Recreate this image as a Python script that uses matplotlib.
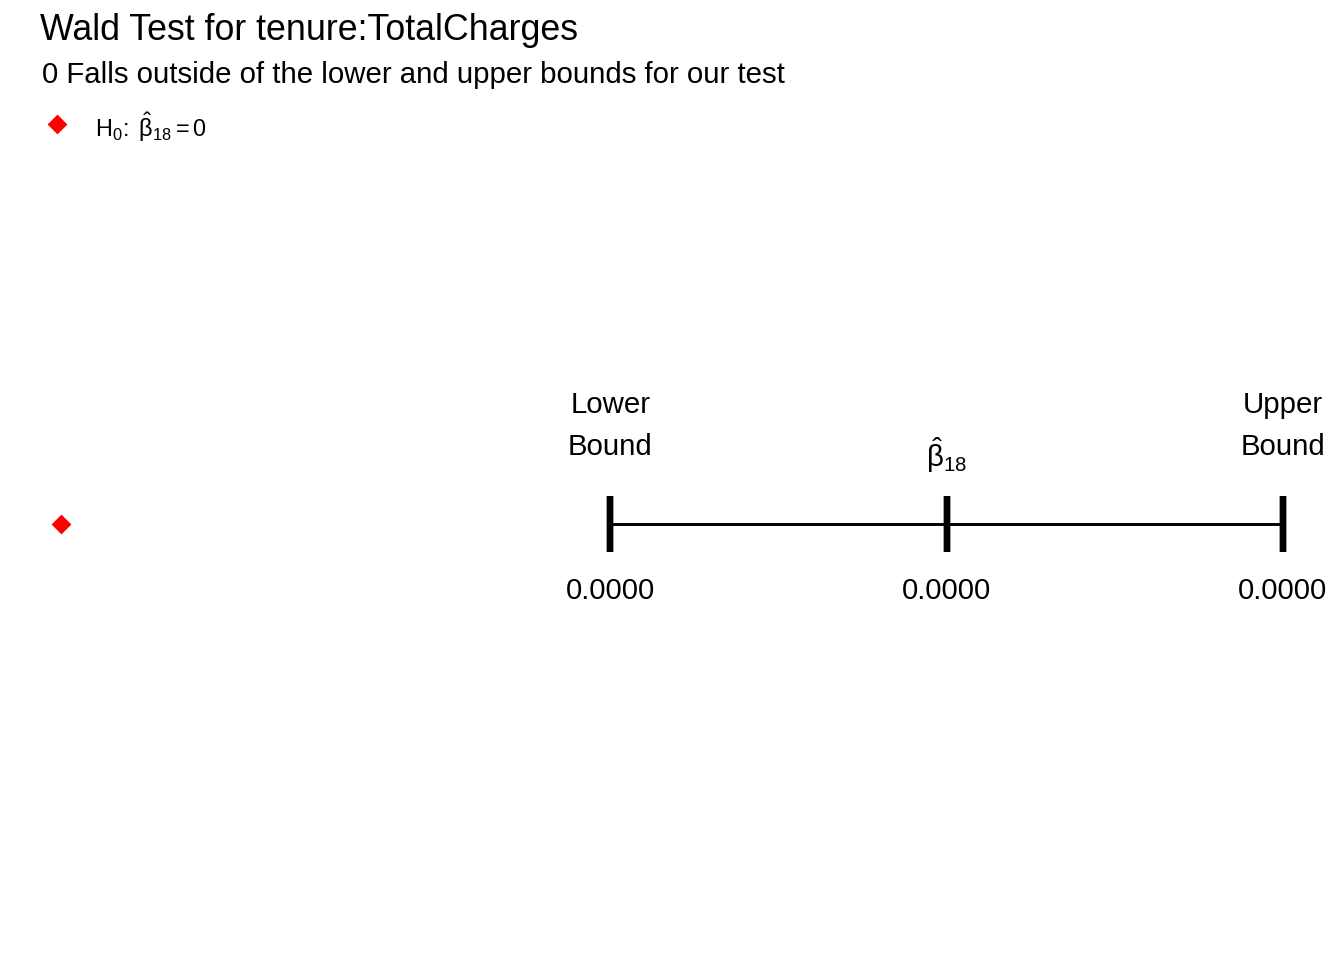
import matplotlib
matplotlib.use("Agg")
import matplotlib.pyplot as plt

plt.rcParams['font.family'] = ['Liberation Sans', 'DejaVu Sans']
plt.rcParams['mathtext.fontset'] = 'custom'
plt.rcParams['mathtext.rm'] = 'Liberation Sans'
plt.rcParams['mathtext.it'] = 'Liberation Sans:italic'
plt.rcParams['mathtext.bf'] = 'Liberation Sans:bold'

# Data
null_value = 0.0
lower_bound = 1.96e-5
estimate = 3.16e-5
upper_bound = 4.36e-5
bound_labels = ["Lower\nBound", r"$\hat{\mathrm{\beta}}_{18}$", "Upper\nBound"]
title = "Wald Test for tenure:TotalCharges"
subtitle = "0 Falls outside of the lower and upper bounds for our test"
legend_label = r"$\mathrm{H_0\!:\;\hat{\beta}_{18} = 0}$"

fig = plt.figure(figsize=(7, 5), dpi=192)
ax = fig.add_axes([0, 0, 1, 872 / 960])
ax.set_axis_off()

xs = [lower_bound, estimate, upper_bound]
ax.plot([lower_bound, upper_bound], [0, 0], color='black', lw=1.1, solid_capstyle='butt', zorder=2)
for x in xs:
    ax.plot([x, x], [0, 0], marker='|', markersize=20.8, markeredgewidth=2.4, color='black', zorder=3)

ax.plot([null_value], [0], marker='D', color='#FF0000', markersize=4.2, linestyle='none', zorder=4)

for x, lab in zip(xs, bound_labels):
    dy = 36.6 if "\n" in lab else 25.9
    ax.annotate(lab, (x, 0), xytext=(0, dy), textcoords='offset points',
                ha='center', va='center', fontsize=11, linespacing=1.63)
    ax.annotate(f"{x:.4f}", (x, 0), xytext=(0, -25.1), textcoords='offset points',
                ha='center', va='center', fontsize=11)

span = upper_bound - null_value
ax.set_xlim(null_value - 0.05 * span, upper_bound + 0.05 * span)
ax.set_ylim(-1, 1)

fig.text(40 / 1344, 1 - 40 / 960, title, fontsize=13.4, ha='left', va='baseline')
fig.text(42 / 1344, 1 - 83 / 960, subtitle, fontsize=11, ha='left', va='baseline')

# legend
fig.lines.append(plt.Line2D([57 / 1344], [1 - 124 / 960], transform=fig.transFigure,
                            marker='D', color='#FF0000', markersize=4.2, linestyle='none'))
fig.text(95 / 1344, 1 - 127 / 960, legend_label, fontsize=8.8, ha='left', va='center')

fig.savefig("out.png", dpi=192)
